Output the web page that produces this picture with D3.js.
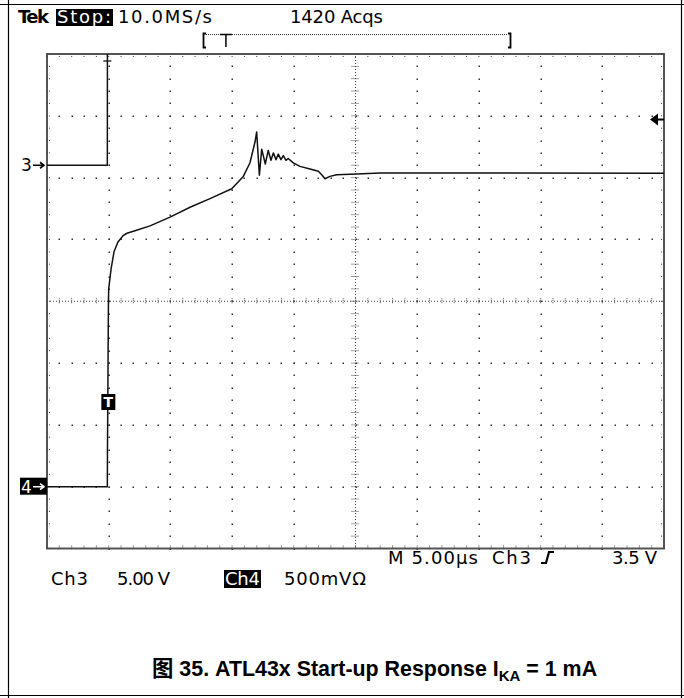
<!DOCTYPE html>
<html>
<head>
<meta charset="utf-8">
<script src="https://cdn.jsdelivr.net/npm/d3@7"></script>
<style>
  body { margin: 0; background: #fff; }
  .scope { font-family: "DejaVu Sans", sans-serif; }
</style>
</head>
<body>
<div id="chart"></div>
<script>
// ---------------------------------------------
// DATA
// time in microseconds from the left edge of the graticule
// ---------------------------------------------
var ch3Time  = [0, 4.89, 4.90];
var ch3Volts = [0, 0, 15];                // jumps off the top of the screen

var ch4Time  = [0, 4.89, 4.90, 4.98, 5.00, 5.19, 5.43, 5.75, 6.16, 6.48, 7.13, 8.35, 9.97,
                11.59, 13.21, 14.97, 15.91, 16.45, 16.86, 16.99, 17.21, 17.40, 17.69, 17.93,
                18.15, 18.34, 18.56, 18.74, 18.96, 19.15, 19.37, 19.55, 19.96, 20.50, 21.31,
                21.99, 22.26, 22.53, 22.93, 23.48, 25.10, 26.99, 50];
var ch4Volts = [0, 0, 0.28, 1.51, 1.60, 1.76, 1.90, 1.98, 2.03, 2.05, 2.07, 2.11, 2.18,
                2.26, 2.33, 2.41, 2.51, 2.62, 2.79, 2.87, 2.52, 2.73, 2.61, 2.72,
                2.64, 2.70, 2.645, 2.69, 2.645, 2.678, 2.64, 2.655, 2.619, 2.591, 2.57,
                2.551, 2.524, 2.491, 2.51, 2.524, 2.53, 2.538, 2.536];

var ch3Scale = 5.0, ch3Offset = 6.2;     // V/div, ground position in divisions from bottom
var ch4Scale = 0.5, ch4Offset = 1.0;
var triggerTime = 4.89;
var trigLevelDiv = 6.94;                 // Ch3 trigger level arrow (3.5 V)

var headerTexts = ["Tek", "Stop:", "10.0MS/s", "1420 Acqs"];
var statusRow1  = ["M 5.00\u00b5s", "Ch3", "3.5 V"];
var statusRow2  = ["Ch3", "5.00 V", "Ch4", "500mV\u03a9"];

// ---------------------------------------------
// SETUP
// ---------------------------------------------
var width = 684, height = 698;
var svg = d3.select("#chart").append("svg")
    .attr("width", width)
    .attr("height", height)
    .attr("class", "scope");

var gx0 = 47, gx1 = 664, gy0 = 54, gy1 = 548.5;
var x = d3.scaleLinear().domain([0, 50]).range([gx0, gx1]);
var yDiv = d3.scaleLinear().domain([0, 8]).range([gy1, gy0]);
var xDiv = d3.scaleLinear().domain([0, 10]).range([gx0, gx1]);

// page frame
svg.append("line").attr("x1", 0).attr("x2", width).attr("y1", 4.5).attr("y2", 4.5)
  .attr("stroke", "#000").attr("stroke-width", 1.2);
svg.append("line").attr("x1", 8.5).attr("x2", 8.5).attr("y1", 0).attr("y2", height)
  .attr("stroke", "#000").attr("stroke-width", 1.2);
svg.append("line").attr("x1", 681.5).attr("x2", 681.5).attr("y1", 0).attr("y2", height)
  .attr("stroke", "#000").attr("stroke-width", 1.2);
svg.append("line").attr("x1", 0).attr("x2", width).attr("y1", 695.5).attr("y2", 695.5)
  .attr("stroke", "#000").attr("stroke-width", 1.2);

// ---------------------------------------------
// GRATICULE
// ---------------------------------------------
var grid = svg.append("g").attr("id", "graticule");
var minorX = d3.range(0, 51).map(function(k) { return k / 5; });
var minorY = d3.range(0, 41).map(function(k) { return k / 5; });

// dotted major lines
var dots = [];
[1, 2, 3, 4, 6, 7, 8, 9].forEach(function(i) {
  minorY.forEach(function(m) { dots.push([xDiv(i), yDiv(m)]); });
});
[1, 2, 3, 5, 6, 7].forEach(function(j) {
  minorX.forEach(function(m) { dots.push([xDiv(m), yDiv(j)]); });
});
grid.selectAll("rect.dot").data(dots).enter().append("rect")
  .attr("class", "dot")
  .attr("x", function(d) { return Math.round(d[0]) - 0.5; })
  .attr("y", function(d) { return Math.round(d[1]) - 0.5; })
  .attr("width", 1.5).attr("height", 1.5)
  .attr("fill", "#333");

// center cross with fine dots and ticks
grid.append("line").attr("x1", gx0).attr("x2", gx1).attr("y1", yDiv(4)).attr("y2", yDiv(4))
  .attr("stroke", "#444").attr("stroke-width", 1).attr("stroke-dasharray", "1,2");
grid.append("line").attr("x1", xDiv(5)).attr("x2", xDiv(5)).attr("y1", gy0).attr("y2", gy1)
  .attr("stroke", "#444").attr("stroke-width", 1).attr("stroke-dasharray", "1,2");
grid.selectAll("line.cx").data(minorX).enter().append("line")
  .attr("class", "cx")
  .attr("x1", function(d) { return xDiv(d); }).attr("x2", function(d) { return xDiv(d); })
  .attr("y1", yDiv(4) - 3).attr("y2", yDiv(4) + 3)
  .attr("stroke", "#444").attr("stroke-width", 1).attr("stroke-dasharray", "1,1");
grid.selectAll("line.cy").data(minorY).enter().append("line")
  .attr("class", "cy")
  .attr("y1", function(d) { return yDiv(d); }).attr("y2", function(d) { return yDiv(d); })
  .attr("x1", xDiv(5) - 4).attr("x2", xDiv(5) + 4)
  .attr("stroke", "#444").attr("stroke-width", 1).attr("stroke-dasharray", "1,1");

// border with inward minor ticks
grid.append("rect").attr("x", gx0).attr("y", gy0)
  .attr("width", gx1 - gx0).attr("height", gy1 - gy0)
  .attr("fill", "none").attr("stroke", "#555").attr("stroke-width", 2);
grid.selectAll("line.tb").data(minorX).enter().append("line")
  .attr("class", "tb")
  .attr("x1", function(d) { return xDiv(d); }).attr("x2", function(d) { return xDiv(d); })
  .attr("y1", gy1).attr("y2", gy1 - 4)
  .attr("stroke", "#444").attr("stroke-width", 1).attr("stroke-dasharray", "1,1");
grid.selectAll("line.tt").data(minorX).enter().append("line")
  .attr("class", "tt")
  .attr("x1", function(d) { return xDiv(d); }).attr("x2", function(d) { return xDiv(d); })
  .attr("y1", gy0).attr("y2", gy0 + 4)
  .attr("stroke", "#444").attr("stroke-width", 1).attr("stroke-dasharray", "1,1");
grid.selectAll("line.tl").data(minorY).enter().append("line")
  .attr("class", "tl")
  .attr("y1", function(d) { return yDiv(d); }).attr("y2", function(d) { return yDiv(d); })
  .attr("x1", gx0).attr("x2", gx0 + 4)
  .attr("stroke", "#444").attr("stroke-width", 1).attr("stroke-dasharray", "1,1");
grid.selectAll("line.tr").data(minorY).enter().append("line")
  .attr("class", "tr")
  .attr("y1", function(d) { return yDiv(d); }).attr("y2", function(d) { return yDiv(d); })
  .attr("x1", gx1).attr("x2", gx1 - 4)
  .attr("stroke", "#444").attr("stroke-width", 1).attr("stroke-dasharray", "1,1");

// ---------------------------------------------
// TRACES
// ---------------------------------------------
svg.append("clipPath").attr("id", "clip").append("rect")
  .attr("x", gx0).attr("y", gy0).attr("width", gx1 - gx0).attr("height", gy1 - gy0);

var ch3 = ch3Time.map(function(t, i) { return [t, ch3Volts[i]]; });
var ch4 = ch4Time.map(function(t, i) { return [t, ch4Volts[i]]; });

var line3 = d3.line()
  .x(function(d) { return x(d[0]); })
  .y(function(d) { return yDiv(ch3Offset + d[1] / ch3Scale); });
var line4 = d3.line()
  .x(function(d) { return x(d[0]); })
  .y(function(d) { return yDiv(ch4Offset + d[1] / ch4Scale); });

var traces = svg.append("g").attr("clip-path", "url(#clip)");
traces.append("path").datum(ch3).attr("d", line3)
  .attr("fill", "none").attr("stroke", "#111").attr("stroke-width", 1.5);
traces.append("path").datum(ch4).attr("d", line4)
  .attr("fill", "none").attr("stroke", "#111").attr("stroke-width", 1.5)
  .attr("stroke-linejoin", "round");

// small T on top of the Ch3 edge
var tx = x(triggerTime);
svg.append("line").attr("x1", tx - 4).attr("x2", tx + 4).attr("y1", 61).attr("y2", 61)
  .attr("stroke", "#111").attr("stroke-width", 1.3);

// trigger marker box on Ch4
svg.append("rect").attr("x", tx - 6).attr("y", 394).attr("width", 14).attr("height", 16).attr("fill", "#000");
svg.append("text").attr("x", tx + 1).attr("y", 407).attr("text-anchor", "middle")
  .attr("fill", "#fff").attr("font-size", 14).attr("font-weight", "bold").text("T");

// channel ground markers
var y3 = yDiv(ch3Offset), y4 = yDiv(ch4Offset);
svg.append("text").attr("x", 21).attr("y", y3 + 6).attr("font-size", 17).attr("fill", "#000").text("3");
svg.append("path").attr("d", "M33," + y3 + "L43," + y3 + "M40," + (y3 - 3) + "L44," + y3 + "L40," + (y3 + 3))
  .attr("fill", "none").attr("stroke", "#000").attr("stroke-width", 1.6);
svg.append("rect").attr("x", 20).attr("y", y4 - 9).attr("width", 27).attr("height", 17).attr("fill", "#000");
svg.append("text").attr("x", 21).attr("y", y4 + 6).attr("font-size", 17).attr("fill", "#fff").text("4");
svg.append("path").attr("d", "M33," + y4 + "L43," + y4 + "M40," + (y4 - 3) + "L44," + y4 + "L40," + (y4 + 3))
  .attr("fill", "none").attr("stroke", "#fff").attr("stroke-width", 1.6);

// trigger level arrow at right edge
var yt = yDiv(trigLevelDiv);
svg.append("path").attr("d", "M650," + yt + "L658," + (yt - 6) + "L658," + (yt + 6) + "Z").attr("fill", "#000");
svg.append("line").attr("x1", 656).attr("x2", gx1).attr("y1", yt).attr("y2", yt)
  .attr("stroke", "#000").attr("stroke-width", 2);

// ---------------------------------------------
// HEADER
// ---------------------------------------------
var hy = 23, hfs = 18;
svg.append("text").attr("x", 18).attr("y", hy).attr("font-size", hfs).attr("font-weight", "bold")
  .attr("textLength", 31).text(headerTexts[0]);
svg.append("rect").attr("x", 56).attr("y", 9).attr("width", 57).attr("height", 17).attr("fill", "#000");
svg.append("text").attr("x", 57).attr("y", hy).attr("font-size", hfs).attr("fill", "#fff")
  .attr("textLength", 54).text(headerTexts[1]);
svg.append("text").attr("x", 118).attr("y", hy).attr("font-size", hfs)
  .attr("textLength", 94).text(headerTexts[2]);
svg.append("text").attr("x", 290).attr("y", hy).attr("font-size", hfs)
  .attr("textLength", 93).text(headerTexts[3]);

// record bracket with trigger position
var rec = d3.scaleLinear().domain([0, 50]).range([204, 510]);
svg.append("path").attr("d", "M206,33.5L203.5,33.5L203.5,47.5L206,47.5")
  .attr("fill", "none").attr("stroke", "#000").attr("stroke-width", 1.8);
svg.append("path").attr("d", "M508,33.5L510.5,33.5L510.5,47.5L508,47.5")
  .attr("fill", "none").attr("stroke", "#000").attr("stroke-width", 1.8);
svg.append("line").attr("x1", 206).attr("x2", 508).attr("y1", 34.5).attr("y2", 34.5)
  .attr("stroke", "#333").attr("stroke-width", 1).attr("stroke-dasharray", "1,1");
var rt = rec(triggerTime) - 8;
svg.append("path").attr("d", "M" + (rt - 6) + ",34.5L" + (rt + 6) + ",34.5M" + rt + ",34.5L" + rt + ",47")
  .attr("fill", "none").attr("stroke", "#000").attr("stroke-width", 1.5);

// ---------------------------------------------
// STATUS LINES
// ---------------------------------------------
var r1 = 564, r2 = 585, sfs = 18;
svg.append("text").attr("x", 388).attr("y", r1).attr("font-size", sfs).attr("textLength", 90).text(statusRow1[0]);
svg.append("text").attr("x", 492).attr("y", r1).attr("font-size", sfs).attr("textLength", 39).text(statusRow1[1]);
svg.append("path").attr("d", "M541," + (r1 - 1) + "L546," + (r1 - 1) + "L549," + (r1 - 12) + "L554," + (r1 - 12))
  .attr("fill", "none").attr("stroke", "#000").attr("stroke-width", 2.2);
svg.append("text").attr("x", 612).attr("y", r1).attr("font-size", sfs).attr("textLength", 45).text(statusRow1[2]);

svg.append("text").attr("x", 51).attr("y", r2).attr("font-size", sfs).attr("textLength", 37).text(statusRow2[0]);
svg.append("text").attr("x", 117).attr("y", r2).attr("font-size", sfs).attr("textLength", 53).text(statusRow2[1]);
svg.append("rect").attr("x", 224).attr("y", r2 - 15).attr("width", 37).attr("height", 18).attr("fill", "#000");
svg.append("text").attr("x", 225).attr("y", r2).attr("font-size", sfs).attr("fill", "#fff")
  .attr("textLength", 35).text(statusRow2[2]);
svg.append("text").attr("x", 284).attr("y", r2).attr("font-size", sfs).attr("textLength", 82).text(statusRow2[3]);

// ---------------------------------------------
// CAPTION
// ---------------------------------------------
var cap = svg.append("text").attr("x", 152).attr("y", 676)
  .attr("font-family", "'Liberation Sans', Arial, 'Noto Sans CJK SC', sans-serif")
  .attr("font-size", 21.4).attr("font-weight", "bold");
cap.append("tspan").attr("font-family", "'Noto Sans CJK SC', sans-serif").text("\u56fe");
cap.append("tspan").text(" 35. ATL43x Start-up Response I");
cap.append("tspan").attr("font-size", 15).attr("dy", 5).text("KA");
cap.append("tspan").attr("dy", -5).text(" = 1 mA");
</script>
</body>
</html>
